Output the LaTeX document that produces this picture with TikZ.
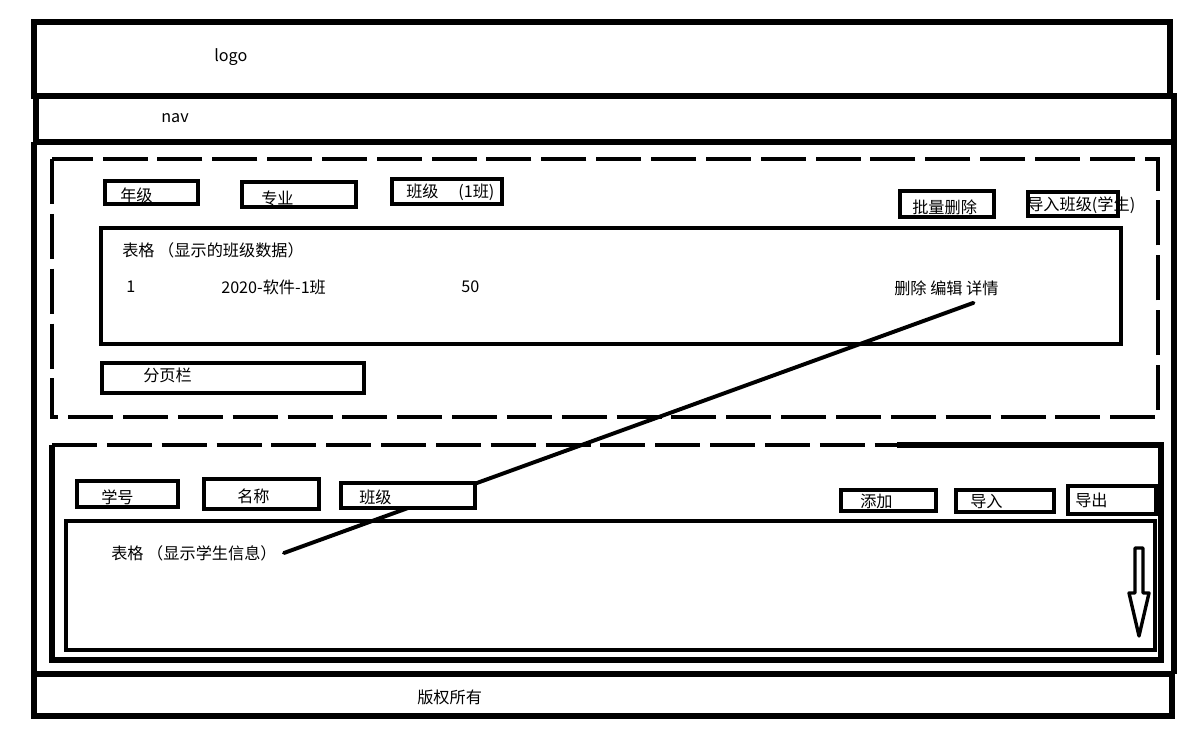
\documentclass[tikz,border=0pt]{standalone}
\usepackage{fontspec}
\setmainfont{Noto Sans CJK SC}
\usetikzlibrary{positioning}
\tikzset{
  frameline/.style={line width=3.6pt},
  dashline/.style={line width=3.4pt, dash pattern=on 32pt off 7pt},
  boxline/.style={draw, line width=2.9pt, fill=white},
  tableline/.style={draw, line width=2.9pt},
  lbl/.style={inner sep=0pt, anchor=west, font=\fontsize{11.5}{13}\selectfont},
  linkline/.style={line width=2.8pt, line cap=round},
  hollowarrow/.style={line width=2.4pt, line join=round}
}

\begin{document}
\begin{tikzpicture}[x=0.025cm, y=-0.025cm]
  \useasboundingbox (0,0) rectangle (1182,732);
  % page frame
  \draw[frameline] (34,22) rectangle (1170,96);
  \draw[frameline] (36,96) rectangle (1174,142);
  \draw[frameline] (34,142) -- (34,674);
  \draw[frameline] (1174,142) -- (1174,674);
  \draw[frameline] (34,674) rectangle (1172,716);
  \node[lbl] (logo) at (214,57) {logo};
  \node[lbl] (nav) at (161,118) {nav};
  \node[lbl] (copy) at (417,697) {版权所有};

  % class area
  \draw[dashline] (52,159) rectangle (1158,417);
  \draw[tableline] (101,228) rectangle (1121,344);
  \draw[boxline] (105,181) rectangle (198,204);
  \draw[boxline] (242,182) rectangle (356,207);
  \draw[boxline] (392,179) rectangle (502,204);
  \draw[boxline] (900,191) rectangle (994,217);
  \draw[boxline] (102,363) rectangle (364,393);
  \node[lbl] (grade) at (120,195) {年级};
  \node[lbl] (major) at (261,198) {专业};
  \node[lbl] (cls) at (406,192) {班级\hspace{14pt}(1班)};
  \node[lbl] (batchdel) at (912,207) {批量删除};
  \node[lbl] (importcls) at (1027,205) {导入班级(学生)};
  \draw[line width=2.9pt] (1028,192) rectangle (1118,216);
  \node[lbl] (clstable) at (122,250) {表格 （显示的班级数据）};
  \node[lbl] (rowno) at (126,287) {1};
  \node[lbl] (rowname) at (221,287) {2020-软件-1班};
  \node[lbl] (rowcount) at (461,287) {50};
  \node[lbl] (ops) at (894,288) {删除 编辑 详情};
  \node[lbl] (pager) at (143,375) {分页栏};

  % student area
  \draw[frameline] (897,445) -- (1161,445) -- (1161,660) -- (52,660) -- (52,445);
  \draw[dashline] (52,445) -- (897,445);
  \draw[tableline] (66,521) rectangle (1155,650);
  \draw[boxline] (77,481) rectangle (178,507);
  \draw[boxline] (204,479) rectangle (319,509);
  \draw[boxline] (841,490) rectangle (936,511);
  \draw[boxline] (956,490) rectangle (1054,512);
  \draw[boxline] (1068,486) rectangle (1156,514);
  \node[lbl] (stutable) at (111,553) {表格 （显示学生信息）};
  \draw[linkline] ([xshift=-18pt,yshift=-5pt]ops.south east) -- ([xshift=5pt]stutable.east);
  \draw[boxline] (341,483) rectangle (475,508);
  \node[lbl] (stuno) at (101,497) {学号};
  \node[lbl] (stuname) at (237,496) {名称};
  \node[lbl] (stucls) at (359,497) {班级};
  \node[lbl] (add) at (860,501) {添加};
  \node[lbl] (import) at (970,501) {导入};
  \node[lbl] (export) at (1075,500) {导出};
  % scroll arrow
  \draw[hollowarrow] (1135,548) -- (1143,548) -- (1143,593) -- (1149,593)
    -- (1139,636) -- (1129,593) -- (1135,593) -- cycle;
\end{tikzpicture}
\end{document}
